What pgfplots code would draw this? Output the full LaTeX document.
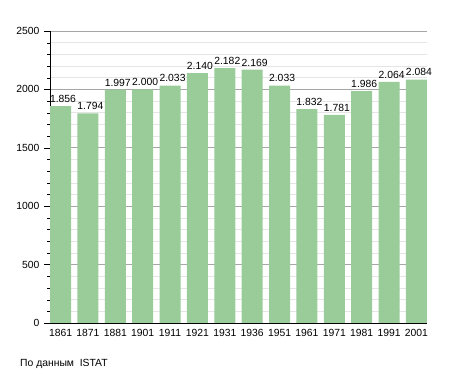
\documentclass[border=0pt]{standalone}
\usepackage{fontspec}
\setmainfont{Liberation Sans}
\usepackage{pgfplots}
\usepackage{pgfplotstable}
\pgfplotsset{compat=1.18}
\definecolor{barg}{RGB}{153,204,153}
\pgfplotstableread{
x y lab
0 1856 1.856
1 1794 1.794
2 1997 1.997
3 2000 2.000
4 2033 2.033
5 2140 2.140
6 2182 2.182
7 2169 2.169
8 2033 2.033
9 1832 1.832
10 1781 1.781
11 1986 1.986
12 2064 2.064
13 2084 2.084
}\datatable
\begin{document}
\begin{tikzpicture}
\useasboundingbox (-50bp,-50bp) rectangle (405bp,323bp);
\begin{axis}[
  at={(0,0)}, anchor=south west,
  scale only axis, width=377bp, height=292bp,
  font=\fontsize{10.4}{12}\selectfont,
  ybar, bar width=21bp,
  xmin=-0.385, xmax=13.385,
  ymin=0, ymax=2500,
  ytick={0,500,...,2500},
  minor y tick num=4,
  xtick=data,
  xticklabels={1861,1871,1881,1901,1911,1921,1931,1936,1951,1961,1971,1981,1991,2001},
  xtick style={draw=none},
  xticklabel style={yshift=3bp},
  yticklabel style={xshift=-1bp},
  axis x line*=bottom, axis y line*=left,
  axis line style={black, -},
  tick align=outside,
  major tick length=6bp, minor tick length=3bp,
  ytick style={black},
  ymajorgrids, yminorgrids,
  major grid style={color=black!35, line width=0.6pt},
  minor grid style={color=black!10, line width=0.6pt},
  /pgf/number format/assume math mode=true,
  /pgf/number format/1000 sep={},
  nodes near coords,
  point meta=explicit symbolic,
  every node near coord/.append style={font=\fontsize{10.4}{12}\selectfont, black, xshift=2.5bp},
]
\addplot[fill=barg, draw=none] table[x=x, y=y, meta=lab] {\datatable};
\end{axis}
\node[anchor=base west, inner sep=0pt, font=\fontsize{10.4}{12}\selectfont] at (-30bp,-43bp) {По данным\ \ ISTAT};
\end{tikzpicture}
\end{document}
